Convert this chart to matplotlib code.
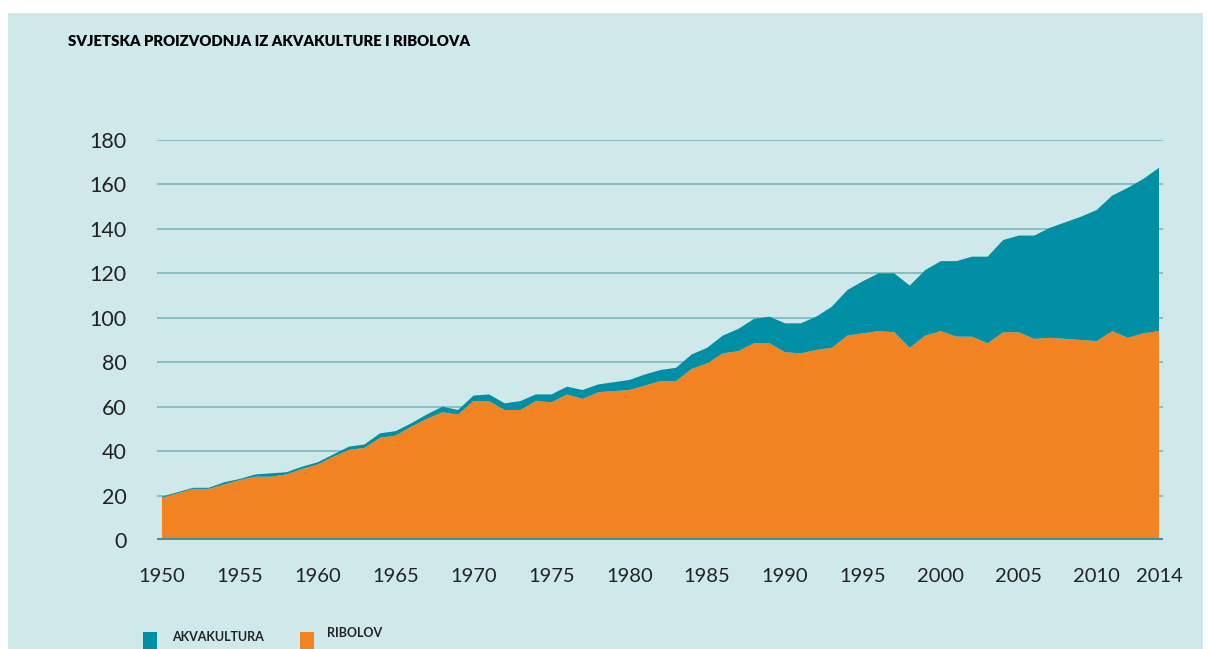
import matplotlib.pyplot as plt
from matplotlib.patches import Rectangle

# Years and production (million tonnes)
years = list(range(1950, 2015))

ribolov = [19, 21, 23, 23, 25, 27, 28.5, 28.5, 29.5, 32,
           34, 37.5, 40.5, 41.5, 46, 47, 51, 54.5, 57.5, 56.5,
           62.5, 62.5, 58.5, 58.5, 62.5, 62, 65.5, 63.5, 66.5, 67,
           67.5, 69.5, 71.5, 71.5, 77, 79.5, 84, 85, 88.5, 88.5,
           84.5, 84, 85.5, 86.5, 92, 93, 94, 93.5, 86.5, 92,
           94, 91.5, 91.5, 88.5, 93.5, 93.5, 90.5, 91, 90.5, 90,
           89.5, 94, 91, 93, 94]

ukupno = [19.5, 21.5, 23.5, 23.5, 26, 27.5, 29.5, 30, 30.5, 33,
          35, 38.5, 42, 43, 48, 49, 52.5, 56.5, 60, 58.5,
          65, 65.5, 61.5, 62.5, 65.5, 65.5, 69, 67.5, 70, 71,
          72, 74.5, 76.5, 77.5, 83.5, 86.5, 92, 95, 99.5, 100.5,
          97.5, 97.5, 100.5, 105, 112.5, 116.5, 120, 120, 114.5, 121.5,
          125.5, 125.5, 127.5, 127.5, 135, 137, 137, 140.5, 143, 145.5,
          148.5, 155, 158.5, 162.5, 167.5]

akvakultura = [t - r for t, r in zip(ukupno, ribolov)]

x_ticks = [1950, 1955, 1960, 1965, 1970, 1975, 1980, 1985, 1990, 1995,
           2000, 2005, 2010, 2014]
y_ticks = [0, 20, 40, 60, 80, 100, 120, 140, 160, 180]

BG = '#cfe9ea'
TEAL = '#008fa4'
ORANGE = '#f28322'
GRID = '#86bec2'

W, H = 1208, 649
fig = plt.figure(figsize=(W / 100, H / 100), dpi=100)
fig.patch.set_facecolor('white')

# light blue panel with a thin white border top/left
fig.patches.append(Rectangle((8 / W, 0), (1203 - 8) / W, (H - 13) / H,
                             transform=fig.transFigure, facecolor=BG,
                             edgecolor='none', zorder=-5))

ax = fig.add_axes([157 / W, (H - 540) / H, (1163 - 157) / W, 400 / H])
ax.set_facecolor('none')
ax.set_zorder(2)

ax.stackplot(years, ribolov, akvakultura, colors=[ORANGE, TEAL],
             linewidth=0, zorder=2)

ax.set_xlim(1950 - 5 / 15.58, 2014 + 4 / 15.58)
ax.set_ylim(0, 180)

for yv in y_ticks[1:]:
    ax.axhline(yv, color=GRID, linewidth=1.4, zorder=1)
ax.axhline(0, color='#3f9499', linewidth=3, zorder=3)

for s in ax.spines.values():
    s.set_visible(False)

ax.set_xticks(x_ticks)
ax.set_yticks(y_ticks)
ax.tick_params(length=0)
ax.tick_params(axis='y', pad=22)
ax.tick_params(axis='x', pad=20)
for lbl in ax.get_yticklabels():
    lbl.set_fontfamily('Lato')
    lbl.set_fontsize(15.5)
    lbl.set_color('#222222')
for lbl in ax.get_xticklabels():
    lbl.set_fontfamily('Lato')
    lbl.set_fontsize(14.5)
    lbl.set_color('#222222')

fig.text(68 / W, 1 - 42 / H, 'SVJETSKA PROIZVODNJA IZ AKVAKULTURE I RIBOLOVA',
         fontfamily='Lato', fontweight='heavy', fontsize=10.7,
         ha='left', va='center', color='black')

# legend
fig.patches.append(Rectangle((143 / W, 0), 14 / W, (H - 632) / H,
                             transform=fig.transFigure, facecolor=TEAL,
                             edgecolor='none', zorder=1))
fig.text(172 / W, 1 - 637 / H, 'AKVAKULTURA', fontfamily='Lato',
         fontweight='bold', fontsize=9, ha='left', va='center',
         color='#222222')
fig.patches.append(Rectangle((300 / W, 0), 14 / W, (H - 632) / H,
                             transform=fig.transFigure, facecolor=ORANGE,
                             edgecolor='none', zorder=1))
fig.text(327 / W, 1 - 633 / H, 'RIBOLOV', fontfamily='Lato',
         fontweight='bold', fontsize=9, ha='left', va='center',
         color='#222222')

plt.savefig('out.png', dpi=100)
plt.close()
